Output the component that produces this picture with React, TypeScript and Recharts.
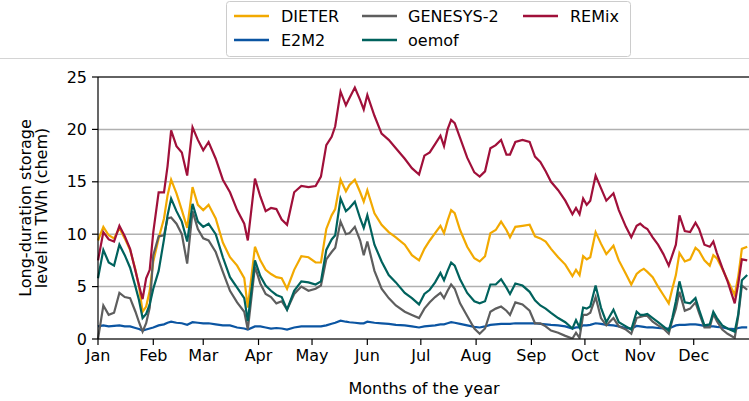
import React from "react";
import { LineChart, Line, XAxis, YAxis, CartesianGrid, ReferenceLine } from "recharts";

const days = [
  0, 3, 6, 9, 12, 15, 18, 21, 23, 25, 27, 29, 31, 34, 37, 39, 41, 44, 47, 50, 53, 56, 59,
  62, 66, 70, 74, 78, 82, 84, 88, 91, 94, 97, 100, 103, 106, 110, 114, 118,
  122, 125, 128, 131, 133, 136, 139, 141, 144, 147, 149, 151, 155, 159, 163, 167, 172, 176, 180,
  183, 186, 189, 192, 194, 196, 198, 200, 203, 207, 211, 214, 217, 220, 223, 226, 229, 231, 234, 238, 242,
  245, 248, 251, 254, 258, 262, 266, 268, 270, 272, 274, 276, 279, 282, 285, 289, 292, 296, 299, 302,
  304, 306, 308, 311, 314, 317, 320, 322, 324, 326, 329, 332, 335, 337, 340, 343, 345, 347, 350, 353, 357, 359, 361, 364,
];

const dieter = [
  9.4, 10.7, 9.9, 9.6, 10.6, 9.6, 8.5, 6.6, 5.0, 2.6, 3.1, 4.6, 7.4, 9.6, 11.5, 13.7, 15.2, 13.9, 12.3, 10.6, 14.5, 12.8, 12.3,
  12.8, 11.5, 9.2, 7.8, 7.0, 5.8, 3.0, 8.8, 7.5, 6.6, 6.2, 5.9, 5.8, 4.8, 6.6, 7.9, 7.8,
  7.3, 7.3, 10.5, 11.8, 12.4, 15.2, 14.1, 14.7, 15.2, 14.0, 13.1, 14.2, 12.0, 10.9, 10.2, 9.7, 9.0, 8.0, 7.5,
  8.6, 9.4, 10.1, 10.8, 10.1, 11.3, 12.3, 12.0, 10.4, 8.8, 7.7, 7.4, 7.9, 10.1, 10.4, 11.2, 10.4, 9.7, 10.7, 10.8, 10.9,
  9.8, 9.6, 9.3, 8.6, 7.8, 7.1, 6.0, 6.6, 6.1, 7.9, 7.6, 7.8, 10.2, 9.1, 8.1, 8.9, 7.5, 6.2, 5.2, 6.2,
  6.5, 6.7, 6.4, 5.9, 5.0, 4.2, 3.4, 4.8, 6.1, 8.2, 7.4, 7.6, 8.7, 8.4, 7.5, 7.0, 8.0, 7.7, 6.7, 5.6, 4.2, 6.0, 8.6, 8.8,
];

const e2m2 = [
  1.2, 1.3, 1.2, 1.25, 1.3, 1.2, 1.2, 1.05, 0.95, 0.8, 0.9, 1.0, 1.1, 1.3, 1.4, 1.55, 1.65, 1.55, 1.5, 1.35, 1.6, 1.55, 1.5,
  1.5, 1.4, 1.3, 1.3, 1.1, 1.0, 0.9, 1.2, 1.2, 1.1, 1.0, 1.05, 1.0, 0.9, 1.1, 1.2, 1.2,
  1.2, 1.2, 1.3, 1.45, 1.55, 1.75, 1.65, 1.6, 1.55, 1.5, 1.5, 1.65, 1.55, 1.5, 1.45, 1.35, 1.3, 1.2, 1.1,
  1.2, 1.25, 1.3, 1.4, 1.4, 1.5, 1.6, 1.55, 1.45, 1.3, 1.15, 1.1, 1.2, 1.35, 1.4, 1.45, 1.45, 1.45, 1.5, 1.5, 1.5,
  1.5, 1.45, 1.4, 1.35, 1.3, 1.2, 1.0, 1.1, 1.1, 1.3, 1.3, 1.35, 1.5, 1.45, 1.35, 1.3, 1.2, 1.05, 1.0, 1.25,
  1.2, 1.15, 1.1, 1.1, 1.05, 1.0, 1.0, 1.15, 1.3, 1.35, 1.35, 1.4, 1.4, 1.35, 1.25, 1.2, 1.2, 1.15, 1.1, 1.0, 0.95, 1.05, 1.1, 1.1,
];

const genesys = [
  0, 3.2, 2.3, 2.5, 4.4, 4.0, 3.9, 2.6, 1.6, 0.7, 1.5, 3.0, 8.0, 9.8, 9.9, 11.5, 11.6, 11.0, 10.0, 7.2, 12.2, 10.5, 9.6,
  9.4, 8.3, 6.4, 4.6, 3.5, 2.6, 0.9, 6.9, 5.3, 4.3, 4.0, 3.4, 3.6, 2.8, 4.3, 5.0, 4.6,
  4.8, 5.1, 7.6, 8.3, 8.7, 11.2, 10.0, 10.1, 10.7, 9.4, 8.0, 9.3, 6.5, 4.8, 3.9, 3.2, 2.6, 2.3, 2.0,
  2.9, 3.5, 4.0, 4.4, 3.9, 4.6, 5.2, 4.8, 3.4, 2.2, 1.0, 0.5, 1.0, 2.6, 2.9, 3.1, 2.7, 2.3, 3.5, 3.3, 2.7,
  1.5, 1.5, 1.2, 0.8, 0.6, 0.3, 0.05, 0.6, 0.1, 2.3, 2.3, 2.5, 4.0, 2.0, 1.3, 2.0, 1.2, 0.9, 0.5, 2.0,
  2.1, 2.2, 2.2, 1.65, 1.3, 1.0, 0.5, 1.8, 2.9, 4.5, 2.7, 2.9, 3.5, 2.5, 1.1, 1.1, 2.4, 1.7, 0.9, 0.5, 0.1, 2.2, 5.1, 4.7,
];

const oemof = [
  5.8, 8.5, 7.3, 7.0, 9.0, 8.0, 6.8, 5.0, 3.7, 2.0, 2.4, 3.3, 4.8, 6.5, 9.5, 11.8, 13.4, 12.2, 11.2, 9.3, 12.9, 11.2, 10.7,
  11.0, 10.0, 7.8, 5.9, 4.9, 3.9, 1.7, 7.5, 6.0, 5.1, 4.6, 4.2, 4.0, 2.8, 4.6, 5.5, 5.4,
  5.2, 5.5, 8.5, 9.5, 9.9, 13.4, 12.2, 12.5, 13.1, 11.5, 10.6, 11.8, 9.0, 7.4, 6.1, 5.4, 4.4, 3.9, 3.3,
  4.3, 4.7, 5.4, 6.3, 5.6, 6.5, 7.3, 7.0, 5.7, 4.4, 3.6, 3.4, 3.6, 5.2, 5.2, 5.7, 4.9, 4.3, 5.3, 5.1, 4.5,
  3.7, 3.2, 2.9, 2.5, 2.0, 1.6, 1.0, 1.8, 1.1, 3.0, 2.9, 3.1, 5.1, 3.0, 1.6, 2.8, 1.6, 1.2, 0.9, 2.6,
  2.3, 2.3, 2.4, 2.0, 1.6, 1.2, 0.8, 2.0, 3.6, 5.5, 3.5, 3.4, 3.9, 2.8, 1.3, 1.4, 2.6, 2.0, 1.3, 1.0, 0.7, 2.4, 5.6, 6.1,
];

const remix = [
  7.5, 10.2, 9.5, 9.3, 10.8, 9.8, 8.6, 6.5, 5.1, 3.8, 5.8, 6.6, 10.2, 14.0, 14.0, 16.5, 19.9, 18.4, 17.8, 15.6, 20.2, 19.0, 18.0,
  18.8, 17.2, 15.2, 14.0, 12.3, 11.0, 9.4, 15.3, 13.6, 12.2, 12.5, 12.4, 11.4, 10.9, 14.0, 14.6, 14.5,
  14.6, 15.5, 18.5, 19.3, 20.3, 23.6, 22.3, 23.0, 24.0, 22.8, 21.9, 23.3, 21.3, 19.6, 19.0, 18.2, 17.2, 16.3, 15.7,
  17.5, 17.8, 18.6, 19.4, 18.4, 20.0, 20.9, 20.6, 19.2, 17.3, 15.9, 15.5, 16.0, 18.2, 18.5, 19.0, 17.6, 17.6, 18.8, 19.0, 18.8,
  17.4, 16.9, 16.0, 15.0, 14.2, 13.2, 11.9, 12.5, 11.9, 13.4, 12.8, 13.2, 15.6, 14.4, 13.2, 13.9, 12.3, 10.7, 9.7, 10.8,
  11.0, 10.7, 10.5, 9.7, 9.0, 8.1, 7.0, 8.0, 9.0, 11.8, 10.3, 10.2, 11.1, 10.5, 9.0, 8.8, 9.3, 8.2, 6.8, 5.5, 3.4, 5.3, 7.6, 7.5,
];

const monthTicks = [0, 31, 59, 90, 120, 151, 181, 212, 243, 273, 304, 334];
const monthNames = ["Jan", "Feb", "Mar", "Apr", "May", "Jun", "Jul", "Aug", "Sep", "Oct", "Nov", "Dec"];
const yTicks = [0, 5, 10, 15, 20, 25];

const FONT = "'DejaVu Sans', sans-serif";

const SERIES = [
  { key: "dieter", name: "DIETER", color: "#f2a900" },
  { key: "e2m2", name: "E2M2", color: "#0b55a2" },
  { key: "genesys", name: "GENESYS-2", color: "#5e5e5e" },
  { key: "oemof", name: "oemof", color: "#00625d" },
  { key: "remix", name: "REMix", color: "#a0103a" },
];

const data = days.map((d, i) => ({
  day: d,
  dieter: dieter[i],
  e2m2: e2m2[i],
  genesys: genesys[i],
  oemof: oemof[i],
  remix: remix[i],
}));

function YLabel() {
  return (
    <g fontFamily={FONT} fontSize={16} fill="#000">
      <text x={31} y={208} transform="rotate(-90 31 208)" textAnchor="middle">
        Long-duration storage
      </text>
      <text x={47} y={208} transform="rotate(-90 47 208)" textAnchor="middle">
        level in TWh (chem)
      </text>
    </g>
  );
}

function XLabel() {
  return (
    <text x={424} y={394} textAnchor="middle" fontFamily={FONT} fontSize={16} fill="#000">
      Months of the year
    </text>
  );
}

// legend laid out in matplotlib's column-major order, 3 columns
const legendSlots = [
  { s: SERIES[0], lx: 8, tx: 55, y: 15 },
  { s: SERIES[1], lx: 8, tx: 55, y: 39 },
  { s: SERIES[2], lx: 136, tx: 182, y: 15 },
  { s: SERIES[3], lx: 136, tx: 182, y: 39 },
  { s: SERIES[4], lx: 297, tx: 344, y: 15 },
];

function LegendBox() {
  return (
    <svg width={406} height={57} style={{ position: "absolute", left: 226, top: 1 }}>
      <rect x={0.5} y={0.5} width={404} height={55} rx={3} fill="#fff" stroke="#cccccc" />
      {legendSlots.map(({ s, lx, tx, y }) => (
        <g key={s.key}>
          <line x1={lx} x2={lx + 35} y1={y} y2={y} stroke={s.color} strokeWidth={2.5} />
          <text x={tx} y={y + 6} fontFamily={FONT} fontSize={16} fill="#000">
            {s.name}
          </text>
        </g>
      ))}
    </svg>
  );
}

export default function App() {
  return (
    <div
      style={{
        position: "absolute",
        left: 0,
        top: 0,
        width: 749,
        height: 401,
        overflow: "hidden",
        background: "#fff",
        fontFamily: FONT,
      }}
    >
      <LineChart width={749} height={401} data={data} margin={{ top: 77, right: 0, bottom: 0, left: 0 }}>
        <CartesianGrid vertical={false} stroke="#b0b0b0" strokeWidth={1.5} />
        <XAxis
          dataKey="day"
          type="number"
          domain={[0, 365]}
          ticks={monthTicks}
          interval={0}
          tickFormatter={(v: number) => monthNames[monthTicks.indexOf(v)]}
          height={62}
          tickSize={6}
          tickMargin={5}
          stroke="#000"
          strokeWidth={1.2}
          tick={{ fill: "#000", fontSize: 16, fontFamily: FONT }}
          label={<XLabel />}
        />
        <YAxis
          type="number"
          domain={[0, 25]}
          ticks={yTicks}
          interval={0}
          width={98}
          tickSize={6}
          tickMargin={5}
          stroke="#000"
          strokeWidth={1.2}
          allowDataOverflow
          tick={{ fill: "#000", fontSize: 16, fontFamily: FONT }}
          label={<YLabel />}
        />
        <ReferenceLine y={25} stroke="#000" strokeWidth={1.2} />
        {SERIES.map((s) => (
          <Line
            key={s.key}
            type="linear"
            dataKey={s.key}
            name={s.name}
            stroke={s.color}
            strokeWidth={2.2}
            dot={false}
            isAnimationActive={false}
          />
        ))}
      </LineChart>
      <div style={{ position: "absolute", left: 0, top: 58, width: 749, height: 1, background: "#d4d4d4" }} />
      <LegendBox />
    </div>
  );
}
